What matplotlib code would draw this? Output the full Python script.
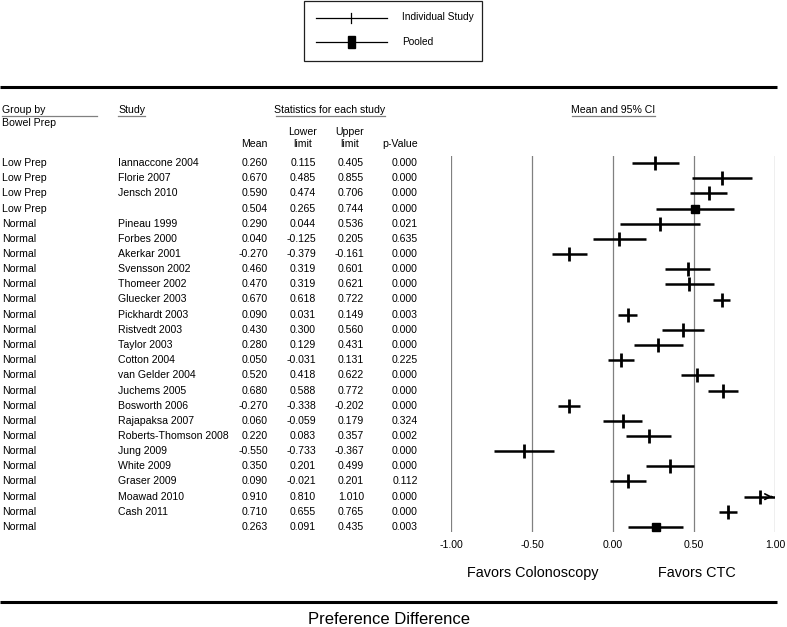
import numpy as np
import matplotlib.pyplot as plt
from matplotlib import transforms
from matplotlib.patches import Rectangle

plt.rcParams['font.family'] = ['Liberation Sans', 'DejaVu Sans']

groups = ['Low Prep'] * 4 + ['Normal'] * 21
studies = ['Iannaccone 2004', 'Florie 2007', 'Jensch 2010', '',
           'Pineau 1999', 'Forbes 2000', 'Akerkar 2001', 'Svensson 2002',
           'Thomeer 2002', 'Gluecker 2003', 'Pickhardt 2003', 'Ristvedt 2003',
           'Taylor 2003', 'Cotton 2004', 'van Gelder 2004', 'Juchems 2005',
           'Bosworth 2006', 'Rajapaksa 2007', 'Roberts-Thomson 2008', 'Jung 2009',
           'White 2009', 'Graser 2009', 'Moawad 2010', 'Cash 2011', '']
means = [0.260, 0.670, 0.590, 0.504,
         0.290, 0.040, -0.270, 0.460, 0.470, 0.670, 0.090, 0.430, 0.280, 0.050,
         0.520, 0.680, -0.270, 0.060, 0.220, -0.550, 0.350, 0.090, 0.910, 0.710, 0.263]
lower = [0.115, 0.485, 0.474, 0.265,
         0.044, -0.125, -0.379, 0.319, 0.319, 0.618, 0.031, 0.300, 0.129, -0.031,
         0.418, 0.588, -0.338, -0.059, 0.083, -0.733, 0.201, -0.021, 0.810, 0.655, 0.091]
upper = [0.405, 0.855, 0.706, 0.744,
         0.536, 0.205, -0.161, 0.601, 0.621, 0.722, 0.149, 0.560, 0.431, 0.131,
         0.622, 0.772, -0.202, 0.179, 0.357, -0.367, 0.499, 0.201, 1.010, 0.765, 0.435]
pvals = [0.000, 0.000, 0.000, 0.000,
         0.021, 0.635, 0.000, 0.000, 0.000, 0.000, 0.003, 0.000, 0.000, 0.225,
         0.000, 0.000, 0.000, 0.324, 0.002, 0.000, 0.000, 0.112, 0.000, 0.000, 0.003]
pooled = [False, False, False, True] + [False] * 20 + [True]
xticks = [-1.0, -0.5, 0.0, 0.5, 1.0]

W, H = 787, 627
fig = plt.figure(figsize=(W / 100, H / 100), dpi=100)

# full-figure axes in pixel coordinates for the table text
ax = fig.add_axes([0, 0, 1, 1])
ax.set_xlim(0, W)
ax.set_ylim(H, 0)
ax.axis('off')

# forest axes
x0, x1, ytop, ybot = 451, 775, 156, 532
row0, step = 163, (527 - 163) / 24
fx = fig.add_axes([x0 / W, 1 - ybot / H, (x1 - x0) / W, (ybot - ytop) / H])
fx.set_xlim(-1, 1)
fx.set_ylim((ybot - row0) / step, (ytop - row0) / step)
fx.axis('off')
fx.patch.set_alpha(0)

for t in xticks:
    fx.axvline(t, color='#808080', lw=0.9)

n = len(means)
rows = np.arange(n)
for r in rows:
    lo, hi = lower[r], min(upper[r], 1.0)
    fx.plot([lo, hi], [r, r], color='black', lw=1.8, solid_capstyle='butt')
    if pooled[r]:
        fx.plot(means[r], r, marker='s', color='black', ms=5.5)
    else:
        fx.plot(means[r], r, marker='|', color='black', ms=10.5, mew=2)
    if upper[r] > 1.0:
        fx.annotate('', xy=(1.0, r), xytext=(0.96, r),
                    arrowprops=dict(arrowstyle='->', color='black', lw=1.2))

# table text, rows aligned with forest axes
tr = transforms.blended_transform_factory(ax.transData, fx.transData)
fs = 7.6
for r in rows:
    ax.text(2, r, groups[r], transform=tr, fontsize=fs, va='center')
    ax.text(118, r, studies[r], transform=tr, fontsize=fs, va='center')
    ax.text(268, r, '%.3f' % means[r], transform=tr, fontsize=fs, va='center', ha='right')
    ax.text(316, r, '%.3f' % lower[r], transform=tr, fontsize=fs, va='center', ha='right')
    ax.text(364, r, '%.3f' % upper[r], transform=tr, fontsize=fs, va='center', ha='right')
    ax.text(418, r, '%.3f' % pvals[r], transform=tr, fontsize=fs, va='center', ha='right')

for t in xticks:
    ax.text(x0 + (t + 1) / 2 * (x1 - x0), 545, '%.2f' % t, fontsize=fs,
            ha='center', va='center')

# headers
ax.text(2, 110, 'Group by', fontsize=fs, va='center')
ax.plot([2, 97], [116, 116], color='#808080', lw=0.9)
ax.text(2, 123, 'Bowel Prep', fontsize=fs, va='center')
ax.text(118, 110, 'Study', fontsize=fs, va='center')
ax.plot([118, 145], [116, 116], color='#808080', lw=0.9)
ax.text(330, 110, 'Statistics for each study', fontsize=fs, va='center', ha='center')
ax.plot([276, 385], [116, 116], color='#808080', lw=0.9)
ax.text(268, 144, 'Mean', fontsize=fs, va='center', ha='right')
ax.text(303, 138, 'Lower\nlimit', fontsize=fs, va='center', ha='center', linespacing=1.15)
ax.text(350, 138, 'Upper\nlimit', fontsize=fs, va='center', ha='center', linespacing=1.15)
ax.text(418, 144, 'p-Value', fontsize=fs, va='center', ha='right')
ax.text(613, 110, 'Mean and 95% CI', fontsize=fs, va='center', ha='center')
ax.plot([572, 655], [116, 116], color='#808080', lw=0.9)

ax.text(533, 573, 'Favors Colonoscopy', fontsize=10.4, ha='center', va='center')
ax.text(697, 573, 'Favors CTC', fontsize=10.4, ha='center', va='center')
ax.text(389, 620, 'Preference Difference', fontsize=12, ha='center', va='center')

# thick rules
ax.plot([0, 777], [87, 87], color='black', lw=2.2, solid_capstyle='butt')
ax.plot([0, 777], [602, 602], color='black', lw=2.2, solid_capstyle='butt')

# legend box
ax.add_patch(Rectangle((304, 1), 178, 60, fill=False, edgecolor='#202020', lw=0.9))
ax.plot([316, 387], [18, 18], color='black', lw=0.9)
ax.plot([351, 351], [13, 23], color='black', lw=0.9)
ax.text(402, 17, 'Individual Study', fontsize=7.3, va='center')
ax.plot([316, 387], [42, 42], color='black', lw=0.9)
ax.add_patch(Rectangle((348, 36), 7, 12, color='black'))
ax.text(402, 42, 'Pooled', fontsize=7.3, va='center')

fig.savefig('out.png', dpi=100)
